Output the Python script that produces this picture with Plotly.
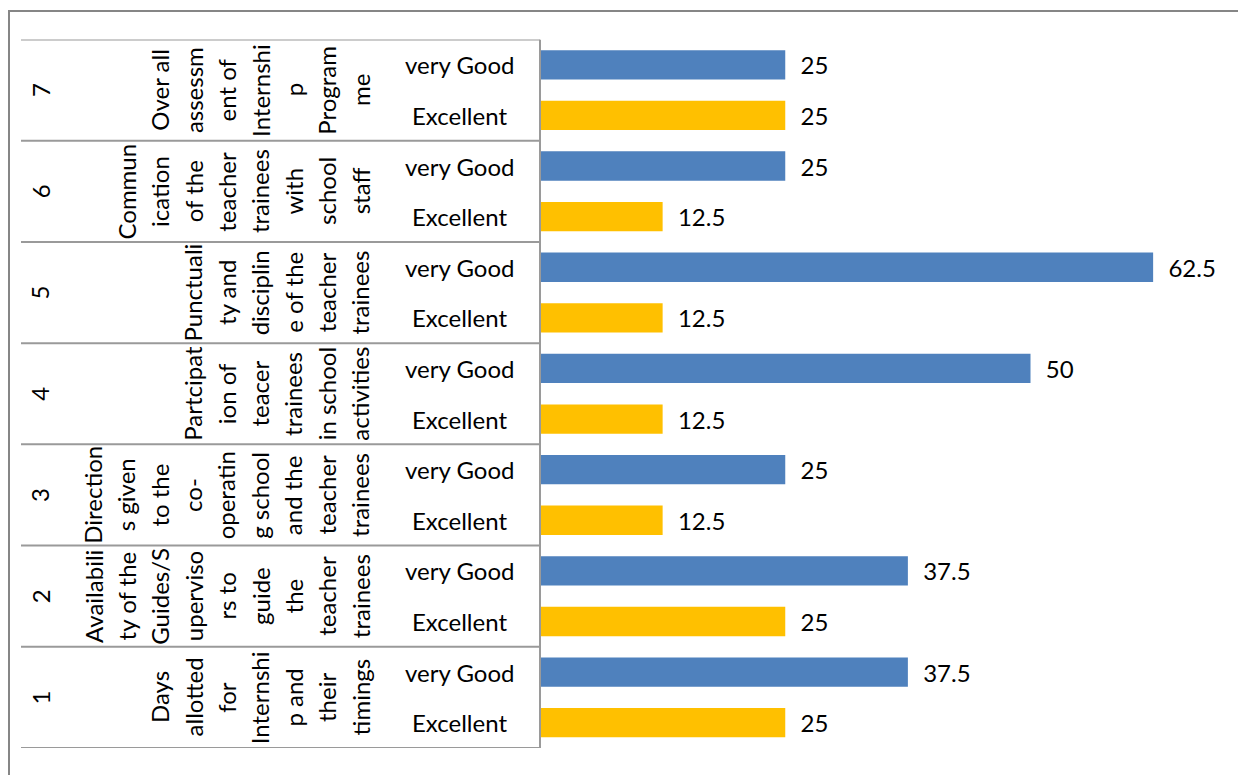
import plotly.graph_objects as go

# ---------------- data ----------------
item_numbers = ["1", "2", "3", "4", "5", "6", "7"]
item_lines = [
    ["Days", "allotted", "for", "Internshi", "p and", "their", "timings"],
    ["Availabili", "ty of the", "Guides/S", "uperviso", "rs to", "guide", "the", "teacher", "trainees"],
    ["Direction", "s given", "to the", "co-", "operatin", "g school", "and the", "teacher", "trainees"],
    ["Partcipat", "ion of", "teacer", "trainees", "in school", "activities"],
    ["Punctuali", "ty and", "disciplin", "e of the", "teacher", "trainees"],
    ["Commun", "ication", "of the", "teacher", "trainees", "with", "school", "staff"],
    ["Over all", "assessm", "ent of", "Internshi", "p", "Program", "me"],
]
ratings = ["Excellent", "very Good"]
very_good = [37.5, 37.5, 25, 50, 62.5, 25, 25]
excellent = [25, 25, 12.5, 12.5, 12.5, 12.5, 25]

# ---------------- layout constants ----------------
W, H = 1246, 775
OFF = 8  # page body margin compensation
FONT = "Lato"
FS = 24
plot_left = 540
plot_top = 39.5
plot_bottom = 748
blue = "#4F81BD"
gold = "#FFC000"
line_col = "#9A9A9A"

cats = []
for n in item_numbers:
    for r in ratings:
        cats.append(f"{n} {r}")

y_vg = [f"{n} very Good" for n in item_numbers]
y_ex = [f"{n} Excellent" for n in item_numbers]

fig = go.Figure()
for name, vals, ys, col in [("very Good", very_good, y_vg, blue), ("Excellent", excellent, y_ex, gold)]:
    fig.add_trace(go.Bar(
        name=name, x=vals, y=ys, orientation="h",
        marker=dict(color=col, line=dict(width=0)),
        width=0.58,
        texttemplate="\u00a0\u00a0%{x}",
        textposition="outside",
        constraintext="none",
        cliponaxis=False,
        textfont=dict(family=FONT, size=FS, color="#000000"),
        hoverinfo="skip",
    ))

def px_x(px):
    return (px - OFF) / W

def px_y(py):
    return (H - (py - OFF)) / H

annotations = []
shapes = []
n_groups = len(item_numbers)
for g in range(n_groups):
    yc = 2 * g + 0.5
    annotations.append(dict(
        x=px_x(40), y=yc, xref="paper", yref="y", text=item_numbers[g],
        textangle=-90, showarrow=False, xanchor="center", yanchor="middle",
        font=dict(family=FONT, size=FS, color="#000000"),
    ))
    lines = item_lines[g]
    nl = len(lines)
    for i, ln in enumerate(lines):
        xpx = 360 - (nl - 1 - i) * 33.4
        annotations.append(dict(
            x=px_x(xpx), y=yc, xref="paper", yref="y", text=ln,
            textangle=-90, showarrow=False, xanchor="center", yanchor="middle",
            font=dict(family=FONT, size=FS, color="#000000"),
        ))
    for k, r in enumerate(ratings):
        annotations.append(dict(
            x=px_x(459), y=2 * g + k, xref="paper", yref="y", text=r,
            showarrow=False, xanchor="center", yanchor="middle",
            font=dict(family=FONT, size=FS, color="#000000"),
        ))

for g in range(n_groups + 1):
    yb = 2 * g - 0.5
    shapes.append(dict(type="line", xref="paper", yref="y",
                       x0=px_x(21), x1=px_x(plot_left), y0=yb, y1=yb,
                       line=dict(color=line_col, width=2)))
shapes.append(dict(type="line", xref="paper", yref="y",
                   x0=px_x(plot_left), x1=px_x(plot_left), y0=-0.5, y1=2 * n_groups - 0.5,
                   line=dict(color=line_col, width=2)))
shapes.append(dict(type="rect", xref="paper", yref="paper",
                   x0=px_x(9), x1=px_x(1400), y0=px_y(11), y1=-0.2,
                   line=dict(color="#868686", width=2), fillcolor="rgba(0,0,0,0)"))

fig.update_layout(
    width=W, height=H,
    margin=dict(l=0, r=0, t=0, b=0),
    paper_bgcolor="white", plot_bgcolor="white",
    barmode="overlay",
    showlegend=False,
    xaxis=dict(domain=[px_x(plot_left), 1], range=[0, (W + OFF - plot_left) / 9.81],
               showticklabels=False, showgrid=False, zeroline=False, showline=False, ticks=""),
    yaxis=dict(domain=[px_y(plot_bottom), px_y(plot_top)], type="category",
               categoryorder="array", categoryarray=cats, range=[-0.5, 2 * n_groups - 0.5],
               showticklabels=False, showgrid=False, zeroline=False, showline=False, ticks=""),
    annotations=annotations,
    shapes=shapes,
    font=dict(family=FONT, size=FS, color="#000000"),
)

fig.write_html("out.html")
